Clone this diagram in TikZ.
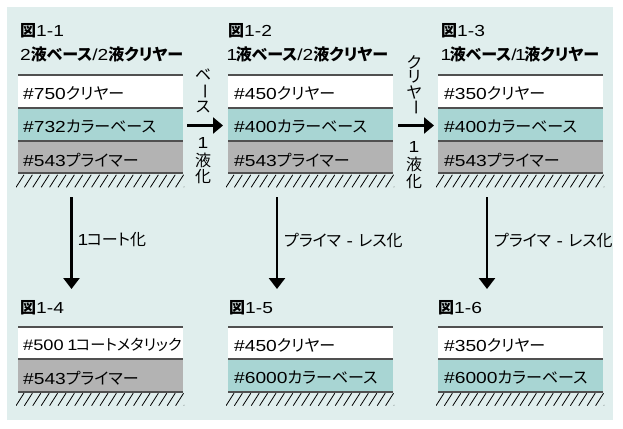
\documentclass[tikz,border=0pt]{standalone}
\usepackage{fontspec}
\setmainfont{Noto Sans CJK JP}[RawFeature=+palt]
\newfontfamily\latf{Liberation Sans}[FakeStretch=1.2]
\newcommand\LT[1]{{\latf #1}}
\newcommand\one{{\latf\kern-1.5pt 1\kern-1.5pt}}
\usetikzlibrary{arrows.meta}
\definecolor{bgc}{HTML}{E0EEED}
\definecolor{tealc}{HTML}{A8D5D3}
\definecolor{grayc}{HTML}{B3B3B3}
\definecolor{linec}{HTML}{505050}
\tikzset{
  txt/.style={font=\fontsize{16}{18}\selectfont, inner sep=0pt, anchor=west},
  smalltxt/.style={txt, font=\fontsize{15.2}{18}\selectfont},
  sep/.style={draw=linec, line width=2pt},
  hatchline/.style={line width=0.8pt, black},
  sidearrow/.style={line width=2.6pt, -{Triangle[length=10pt,width=16pt]}},
  downarrow/.style={line width=2.6pt, -{Triangle[length=11pt,width=16pt]}},
  vlab/.style={font=\fontsize{16}{18}\selectfont, inner sep=0pt},
}
\newcommand\band[4]{\fill[#4] (#1,#2) rectangle (#1+165,#3);}
\newcommand\sepline[2]{\draw[sep] (#1,#2) -- (#1+165,#2);}
\newcommand\hatch[2]{%
  \begin{scope}
    \clip (#1-2,#2+1) rectangle (#1+166,#2+16);
    \foreach \i in {0,...,20} \draw[hatchline] (#1+\i*8.4-2,#2+14) -- (#1+\i*8.4+6,#2+1.5);
  \end{scope}}
\newcommand\vbar{\rotatebox[origin=c]{-90}{ー}}
\newcommand\vl[2]{\vbox to #1{\vss\hbox to 18pt{\hss #2\hss}\vss}}
\begin{document}
\begin{tikzpicture}[x=1pt,y=-1pt]
\useasboundingbox (0,0) rectangle (623,428);
\fill[bgc] (7,7) rectangle (613,420);

% ---------- Fig 1-1 ----------
\band{18}{75}{107.7}{white}
\band{18}{107.7}{141}{tealc}
\band{18}{141}{173.3}{grayc}
\sepline{18}{75}\sepline{18}{107.7}\sepline{18}{141}\sepline{18}{173.3}
\hatch{18}{173.3}
\node[txt] (t11) at (20,31) {\textbf{図}\LT{1-1}};
\node[txt] (s11) at (20,54) {\LT{2}\textbf{液ベース}\LT{/2}\textbf{液クリヤー}};
\node[txt] (a11) at (23,93) {\LT{\#750}クリヤー};
\node[txt] (b11) at (23,127) {\LT{\#732}カラーベース};
\node[txt] (c11) at (23,160) {\LT{\#543}プライマー};

% ---------- Fig 1-2 ----------
\band{228}{75}{107.7}{white}
\band{228}{107.7}{141}{tealc}
\band{228}{141}{173.3}{grayc}
\sepline{228}{75}\sepline{228}{107.7}\sepline{228}{141}\sepline{228}{173.3}
\hatch{228}{173.3}
\node[txt] (t12) at (228,31) {\textbf{図}\LT{1-2}};
\node[txt] (s12) at (228,54) {\one\textbf{液ベース}\LT{/2}\textbf{液クリヤー}};
\node[txt] (a12) at (234,93) {\LT{\#450}クリヤー};
\node[txt] (b12) at (234,127) {\LT{\#400}カラーベース};
\node[txt] (c12) at (234,160) {\LT{\#543}プライマー};

% ---------- Fig 1-3 ----------
\band{438}{75}{107.7}{white}
\band{438}{107.7}{141}{tealc}
\band{438}{141}{173.3}{grayc}
\sepline{438}{75}\sepline{438}{107.7}\sepline{438}{141}\sepline{438}{173.3}
\hatch{438}{173.3}
\node[txt] (t13) at (441,31) {\textbf{図}\LT{1-3}};
\node[txt] (s13) at (442,54) {\one\textbf{液ベース}\LT{/}\one\textbf{液クリヤー}};
\node[txt] (a13) at (444,93) {\LT{\#350}クリヤー};
\node[txt] (b13) at (444,127) {\LT{\#400}カラーベース};
\node[txt] (c13) at (444,160) {\LT{\#543}プライマー};

% ---------- side arrows ----------
\coordinate (h1s) at (187,125.5);
\coordinate (h1e) at (223,125.5);
\draw[sidearrow] (h1s) -- (h1e);
\node[vlab] (v1a) at (203,91) {\vbox{\offinterlineskip\vl{16.5pt}{ベ}\vl{16.5pt}{\vbar}\vl{16.5pt}{ス}}};
\node[vlab] (v1b) at (203,160) {\vbox{\offinterlineskip\vl{17pt}{\LT{1}}\vl{17pt}{液}\vl{17pt}{化}}};

\coordinate (h2s) at (398,125.5);
\coordinate (h2e) at (434,125.5);
\draw[sidearrow] (h2s) -- (h2e);
\node[vlab] (v2a) at (414,85) {\vbox{\offinterlineskip\vl{15pt}{ク}\vl{15pt}{リ}\vl{15pt}{ヤ}\vl{16pt}{\vbar}}};
\node[vlab] (v2b) at (414,164) {\vbox{\offinterlineskip\vl{17.5pt}{\LT{1}}\vl{17.5pt}{液}\vl{17.5pt}{化}}};

% ---------- down arrows ----------
\coordinate (d1s) at (71.5,197);
\coordinate (d1e) at (71.5,289);
\draw[downarrow] (d1s) -- (d1e);
\node[txt] (l1) at (79,240) {\one コート化};

\coordinate (d2s) at (277,197);
\coordinate (d2e) at (277,289);
\draw[downarrow] (d2s) -- (d2e);
\node[txt] (l2) at (284,240) {プライマ\LT{ - }レス化};

\coordinate (d3s) at (487,197);
\coordinate (d3e) at (487,289);
\draw[downarrow] (d3s) -- (d3e);
\node[txt] (l3) at (494,240) {プライマ\LT{ - }レス化};

% ---------- Fig 1-4 ----------
\band{18}{326.7}{359.3}{white}
\band{18}{359.3}{391.7}{grayc}
\sepline{18}{326.7}\sepline{18}{359.3}\sepline{18}{391.7}
\hatch{18}{391.7}
\node[txt] (t14) at (20,308) {\textbf{図}\LT{1-4}};
\node[smalltxt] (a14) at (23,345) {\LT{\#500 }\one コートメタリック};
\node[txt] (b14) at (23,378) {\LT{\#543}プライマー};

% ---------- Fig 1-5 ----------
\band{228}{326.7}{359.3}{white}
\band{228}{359.3}{391.7}{tealc}
\sepline{228}{326.7}\sepline{228}{359.3}\sepline{228}{391.7}
\hatch{228}{391.7}
\node[txt] (t15) at (229,308) {\textbf{図}\LT{1-5}};
\node[txt] (a15) at (234,345) {\LT{\#450}クリヤー};
\node[txt] (b15) at (234,378) {\LT{\#6000}カラーベース};

% ---------- Fig 1-6 ----------
\band{438}{326.7}{359.3}{white}
\band{438}{359.3}{391.7}{tealc}
\sepline{438}{326.7}\sepline{438}{359.3}\sepline{438}{391.7}
\hatch{438}{391.7}
\node[txt] (t16) at (438,308) {\textbf{図}\LT{1-6}};
\node[txt] (a16) at (444,345) {\LT{\#350}クリヤー};
\node[txt] (b16) at (444,378) {\LT{\#6000}カラーベース};
\end{tikzpicture}
\end{document}
